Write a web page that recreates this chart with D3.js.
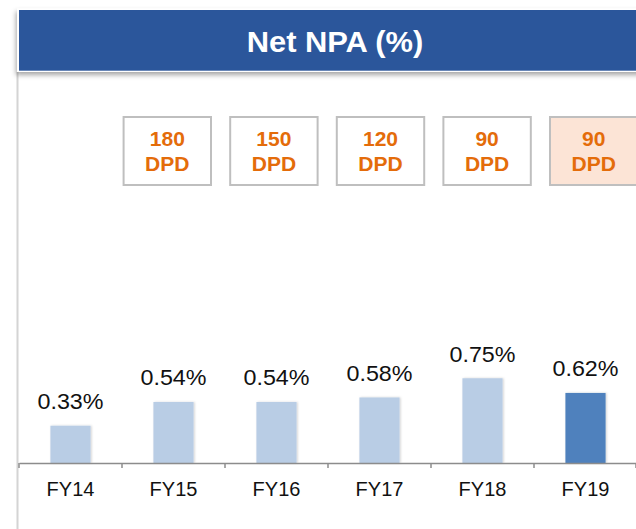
<!DOCTYPE html>
<html>
<head>
<meta charset="utf-8">
<script src="https://cdn.jsdelivr.net/npm/d3@7"></script>
<style>
  html, body { margin: 0; padding: 0; background: #fff; }
  svg { display: block; font-family: "Liberation Sans", Arial, sans-serif; }
</style>
</head>
<body>
<svg id="chart" width="636" height="529"></svg>
<script>
const title = "Net NPA (%)";
const categories = ["FY14", "FY15", "FY16", "FY17", "FY18", "FY19"];
const values = [0.33, 0.54, 0.54, 0.58, 0.75, 0.62];
const valueLabels = ["0.33%", "0.54%", "0.54%", "0.58%", "0.75%", "0.62%"];
const highlight = ["FY19"];
const dpdCategories = ["FY15", "FY16", "FY17", "FY18", "FY19"];
const dpdValues = ["180", "150", "120", "90", "90"];
const dpdUnit = "DPD";

const svg = d3.select("#chart");
const defs = svg.append("defs");

const f = defs.append("filter").attr("id", "hs").attr("x", "-5%").attr("y", "-20%").attr("width", "110%").attr("height", "160%");
f.append("feDropShadow").attr("dx", -1).attr("dy", 3).attr("stdDeviation", 2.5).attr("flood-color", "#000").attr("flood-opacity", 0.35);
const bf = defs.append("filter").attr("id", "bs").attr("x", "-20%").attr("y", "-20%").attr("width", "140%").attr("height", "140%");
bf.append("feDropShadow").attr("dx", 1).attr("dy", 0).attr("stdDeviation", 1).attr("flood-color", "#000").attr("flood-opacity", 0.18);

// left vertical line
svg.append("line").attr("x1", 17.5).attr("x2", 17.5).attr("y1", 72).attr("y2", 529)
  .attr("stroke", "#d4d4d4").attr("stroke-width", 2);

// header
svg.append("rect").attr("x", 17).attr("y", 8.5).attr("width", 640).attr("height", 63.5)
  .attr("fill", "#ffffff").attr("filter", "url(#hs)");
svg.append("rect").attr("x", 19).attr("y", 10).attr("width", 640).attr("height", 60.7)
  .attr("fill", "#2B569B");
svg.append("text").attr("transform", "translate(335,52) scale(1.065,1)").attr("text-anchor", "middle")
  .attr("fill", "#fff").attr("font-size", 29).attr("font-weight", "bold").text(title);

// scales
const x = d3.scaleBand().domain(categories).range([19, 637]).paddingInner(0.61).paddingOuter(0.305);
const y = d3.scaleLinear().domain([0, 1]).range([463, 350]);
const xb = d3.scaleBand().domain(dpdCategories).range([114, 647]).paddingInner(0.18).paddingOuter(0.09);

// DPD boxes
const boxes = svg.append("g").selectAll("g").data(dpdCategories).join("g")
  .attr("transform", d => `translate(${xb(d)},117)`);
boxes.append("rect").attr("width", xb.bandwidth()).attr("height", 68)
  .attr("fill", d => highlight.includes(d) ? "#FCE4D6" : "#ffffff")
  .attr("stroke", "#bfbfbf").attr("stroke-width", 2);
boxes.append("text").attr("transform", `translate(${xb.bandwidth() / 2},28.5) scale(1.08,1)`).attr("text-anchor", "middle")
  .attr("fill", "#E46C0A").attr("font-size", 19.5).attr("font-weight", "bold")
  .text((d, i) => dpdValues[i]);
boxes.append("text").attr("transform", `translate(${xb.bandwidth() / 2},54) scale(1.08,1)`).attr("text-anchor", "middle")
  .attr("fill", "#E46C0A").attr("font-size", 19.5).attr("font-weight", "bold")
  .text(dpdUnit);

// bars
svg.append("g").selectAll("rect").data(categories).join("rect")
  .attr("x", d => x(d)).attr("width", x.bandwidth())
  .attr("y", (d, i) => y(values[i])).attr("height", (d, i) => y(0) - y(values[i]))
  .attr("fill", d => highlight.includes(d) ? "#4F81BD" : "#B9CDE5")
  .attr("filter", "url(#bs)");

// value labels
svg.append("g").selectAll("text").data(categories).join("text")
  .attr("transform", (d, i) => `translate(${x(d) + x.bandwidth() / 2},${y(values[i]) - 16.5}) scale(1.06,1)`)
  .attr("text-anchor", "middle").attr("font-size", 22).attr("fill", "#111")
  .text((d, i) => valueLabels[i]);

// axis
const axis = d3.axisBottom(x).tickSize(0).tickPadding(19);
const ag = svg.append("g").attr("transform", `translate(0,${y(0)})`).call(axis);
ag.select(".domain").attr("stroke", "#8c8c8c").attr("stroke-width", 1.5);
ag.selectAll(".tick text").attr("font-size", 20).attr("fill", "#111")
  .attr("font-family", "Liberation Sans, Arial, sans-serif");
const bounds = categories.map(d => x(d) - x.step() * x.paddingInner() / 2).concat([x.range()[1] - 1]);
ag.selectAll(".btick").data(bounds).join("line").attr("class", "btick")
  .attr("x1", d => d).attr("x2", d => d).attr("y1", 0).attr("y2", 5)
  .attr("stroke", "#8c8c8c").attr("stroke-width", 1.5);
</script>
</body>
</html>
